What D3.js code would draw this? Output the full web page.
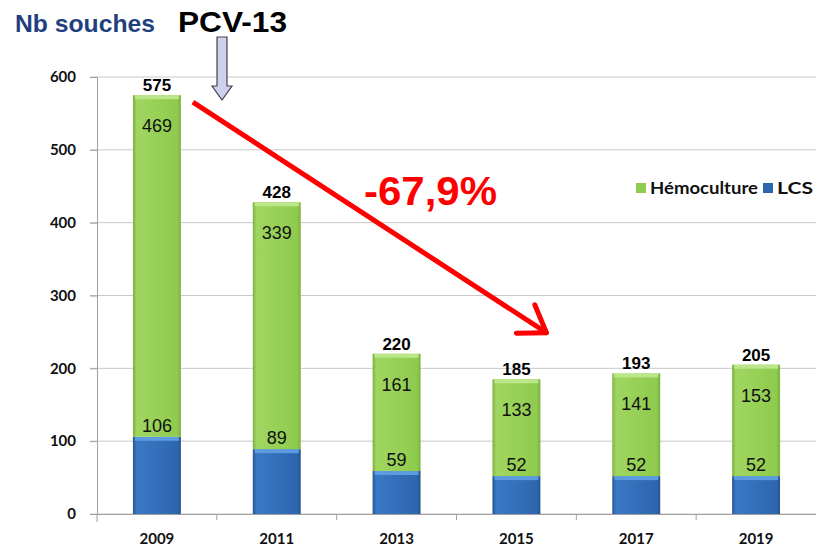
<!DOCTYPE html>
<html>
<head>
<meta charset="utf-8">
<script src="https://cdn.jsdelivr.net/npm/d3@7"></script>
<style>
  body { margin: 0; background: #fff; }
  svg { display: block; }
</style>
</head>
<body>
<div id="chart"></div>
<script>
// Données
var annees = ["2009", "2011", "2013", "2015", "2017", "2019"];
var lcs = [106, 89, 59, 52, 52, 52];
var hemoculture = [469, 339, 161, 133, 141, 153];
var totaux = [575, 428, 220, 185, 193, 205];
var ticksY = [0, 100, 200, 300, 400, 500, 600];

var largeur = 816, hauteur = 551;
var marge = { haut: 77, droite: 0, bas: 37, gauche: 97 };

var svg = d3.select("#chart").append("svg")
  .attr("width", largeur)
  .attr("height", hauteur);

var defs = svg.append("defs");

// Dégradés pour l'effet biseauté
function degrade(id, c1, c2, c3) {
  var g = defs.append("linearGradient").attr("id", id)
    .attr("x1", 0).attr("x2", 1).attr("y1", 0).attr("y2", 0);
  g.append("stop").attr("offset", "0%").attr("stop-color", c3);
  g.append("stop").attr("offset", "8%").attr("stop-color", c1);
  g.append("stop").attr("offset", "92%").attr("stop-color", c2);
  g.append("stop").attr("offset", "100%").attr("stop-color", c3);
}
degrade("gVert", "#A0D660", "#8FCB4E", "#7DB03E");
degrade("gBleu", "#3A78C6", "#2E66AE", "#25558F");

var x = d3.scaleBand()
  .domain(annees)
  .range([marge.gauche, largeur - marge.droite])
  .paddingInner(0.6)
  .paddingOuter(0.3);

var y = d3.scaleLinear()
  .domain([0, 600])
  .range([hauteur - marge.bas, marge.haut]);

// Grille
svg.append("g")
  .selectAll("line")
  .data(ticksY)
  .enter().append("line")
  .attr("x1", marge.gauche - 7)
  .attr("x2", largeur)
  .attr("y1", function(d) { return y(d); })
  .attr("y2", function(d) { return y(d); })
  .attr("stroke", "#c8c8c8")
  .attr("stroke-width", 1);

// Axe Y
var axeY = svg.append("g")
  .attr("transform", "translate(" + marge.gauche + ",0)")
  .call(d3.axisLeft(y).tickValues(ticksY).tickSize(7).tickPadding(14));
axeY.select(".domain").attr("stroke", "#a0a0a0");
axeY.selectAll(".tick line").attr("stroke", "#a0a0a0");
axeY.selectAll("text")
  .attr("font-family", "Lato, 'Open Sans', sans-serif")
  .attr("font-weight", "bold")
  .attr("font-size", 15)
  .attr("fill", "#111");
svg.append("line")
  .attr("x1", marge.gauche).attr("x2", marge.gauche)
  .attr("y1", y(0)).attr("y2", y(0) + 8)
  .attr("stroke", "#a0a0a0");

// Axe X
var axeX = svg.append("g")
  .attr("transform", "translate(0," + y(0) + ")")
  .call(d3.axisBottom(x).tickSize(0).tickPadding(19));
axeX.select(".domain").attr("stroke", "#a0a0a0");
axeX.selectAll("text")
  .attr("font-family", "Lato, 'Open Sans', sans-serif")
  .attr("font-weight", "bold")
  .attr("font-size", 15)
  .attr("fill", "#111");
// petites graduations entre les catégories
svg.append("g").selectAll("line")
  .data(annees.slice(1))
  .enter().append("line")
  .attr("x1", function(d) { return x(d) - x.step() * x.paddingInner() / 2; })
  .attr("x2", function(d) { return x(d) - x.step() * x.paddingInner() / 2; })
  .attr("y1", y(0))
  .attr("y2", y(0) + 6)
  .attr("stroke", "#a0a0a0");

var bw = x.bandwidth();

// Barres LCS
svg.append("g").selectAll("rect")
  .data(annees)
  .enter().append("rect")
  .attr("x", function(d) { return x(d); })
  .attr("y", function(d, i) { return y(lcs[i]); })
  .attr("width", bw)
  .attr("height", function(d, i) { return y(0) - y(lcs[i]); })
  .attr("fill", "url(#gBleu)");
svg.append("g").selectAll("rect")
  .data(annees)
  .enter().append("rect")
  .attr("x", function(d) { return x(d) + 2; })
  .attr("y", function(d, i) { return y(lcs[i]); })
  .attr("width", bw - 4)
  .attr("height", 4)
  .attr("fill", "#5C9BE0");

// Barres Hémoculture
svg.append("g").selectAll("rect")
  .data(annees)
  .enter().append("rect")
  .attr("x", function(d) { return x(d); })
  .attr("y", function(d, i) { return y(lcs[i] + hemoculture[i]); })
  .attr("width", bw)
  .attr("height", function(d, i) { return y(lcs[i]) - y(lcs[i] + hemoculture[i]); })
  .attr("fill", "url(#gVert)");
svg.append("g").selectAll("rect")
  .data(annees)
  .enter().append("rect")
  .attr("x", function(d) { return x(d) + 2; })
  .attr("y", function(d, i) { return y(lcs[i] + hemoculture[i]); })
  .attr("width", bw - 4)
  .attr("height", 4)
  .attr("fill", "#BCE68A");

// Étiquettes
var police = "Liberation Sans, Arial, sans-serif";
svg.append("g").selectAll("text")
  .data(annees)
  .enter().append("text")
  .attr("x", function(d) { return x(d) + bw / 2; })
  .attr("y", function(d, i) { return y(lcs[i]) - 5; })
  .attr("text-anchor", "middle")
  .attr("font-family", police)
  .attr("font-size", 18)
  .attr("fill", "#111")
  .text(function(d, i) { return lcs[i]; });

svg.append("g").selectAll("text")
  .data(annees)
  .enter().append("text")
  .attr("x", function(d) { return x(d) + bw / 2; })
  .attr("y", function(d, i) { return y(lcs[i] + hemoculture[i]) + 37; })
  .attr("text-anchor", "middle")
  .attr("font-family", police)
  .attr("font-size", 18)
  .attr("fill", "#111")
  .text(function(d, i) { return hemoculture[i]; });

svg.append("g").selectAll("text")
  .data(annees)
  .enter().append("text")
  .attr("x", function(d) { return x(d) + bw / 2; })
  .attr("y", function(d, i) { return y(totaux[i]) - 4; })
  .attr("text-anchor", "middle")
  .attr("font-family", police)
  .attr("font-weight", "bold")
  .attr("font-size", 17)
  .attr("fill", "#000")
  .text(function(d, i) { return totaux[i]; });

// Titre
svg.append("text")
  .attr("x", 15).attr("y", 32)
  .attr("font-family", police)
  .attr("font-weight", "bold")
  .attr("font-size", 24)
  .attr("textLength", 140)
  .attr("lengthAdjust", "spacingAndGlyphs")
  .attr("fill", "#1F3F7F")
  .text("Nb souches");

svg.append("text")
  .attr("x", 178).attr("y", 32)
  .attr("font-family", police)
  .attr("font-weight", "bold")
  .attr("font-size", 30)
  .attr("textLength", 109)
  .attr("lengthAdjust", "spacingAndGlyphs")
  .attr("fill", "#000")
  .text("PCV-13");

// Flèche PCV-13
var fx = 222;
svg.append("path")
  .attr("d", "M" + (fx - 5) + ",37 L" + (fx + 5) + ",37 L" + (fx + 5) + ",86 L" + (fx + 10) + ",86 L" + fx + ",100 L" + (fx - 10) + ",86 L" + (fx - 5) + ",86 Z")
  .attr("fill", "#CDD0EE")
  .attr("stroke", "#444")
  .attr("stroke-width", 1.2);

// Flèche rouge
var xd = x("2009") + bw + 12, yd = y(575) + 7;
var xf = x("2015") + bw + 6, yf = y(249);
svg.append("line")
  .attr("x1", xd).attr("y1", yd)
  .attr("x2", xf).attr("y2", yf)
  .attr("stroke", "#FF0000")
  .attr("stroke-width", 5);
var ang = Math.atan2(yf - yd, xf - xd);
[0.6, -0.6].forEach(function(a) {
  svg.append("line")
    .attr("x1", xf).attr("y1", yf)
    .attr("x2", xf - 30 * Math.cos(ang + a))
    .attr("y2", yf - 30 * Math.sin(ang + a))
    .attr("stroke", "#FF0000")
    .attr("stroke-width", 5)
    .attr("stroke-linecap", "round");
});

svg.append("text")
  .attr("x", 364).attr("y", 205)
  .attr("font-family", police)
  .attr("font-weight", "bold")
  .attr("font-size", 40)
  .attr("textLength", 133)
  .attr("lengthAdjust", "spacingAndGlyphs")
  .attr("fill", "#FF0000")
  .text("-67,9%");

// Légende
var legende = [
  { nom: "Hémoculture", couleur: "#8FCB4E", x: 636, l: 108 },
  { nom: "LCS", couleur: "#2E66AE", x: 763, l: 36 }
];
var lg = svg.append("g");
lg.selectAll("rect")
  .data(legende)
  .enter().append("rect")
  .attr("x", function(d) { return d.x; })
  .attr("y", 183)
  .attr("width", 10).attr("height", 10)
  .attr("fill", function(d) { return d.couleur; });
lg.selectAll("text")
  .data(legende)
  .enter().append("text")
  .attr("x", function(d) { return d.x + 14; })
  .attr("y", 194)
  .attr("font-family", "Lato, 'Open Sans', sans-serif")
  .attr("font-weight", "bold")
  .attr("font-size", 17)
  .attr("textLength", function(d) { return d.l; })
  .attr("lengthAdjust", "spacingAndGlyphs")
  .attr("fill", "#111")
  .text(function(d) { return d.nom; });
</script>
</body>
</html>
